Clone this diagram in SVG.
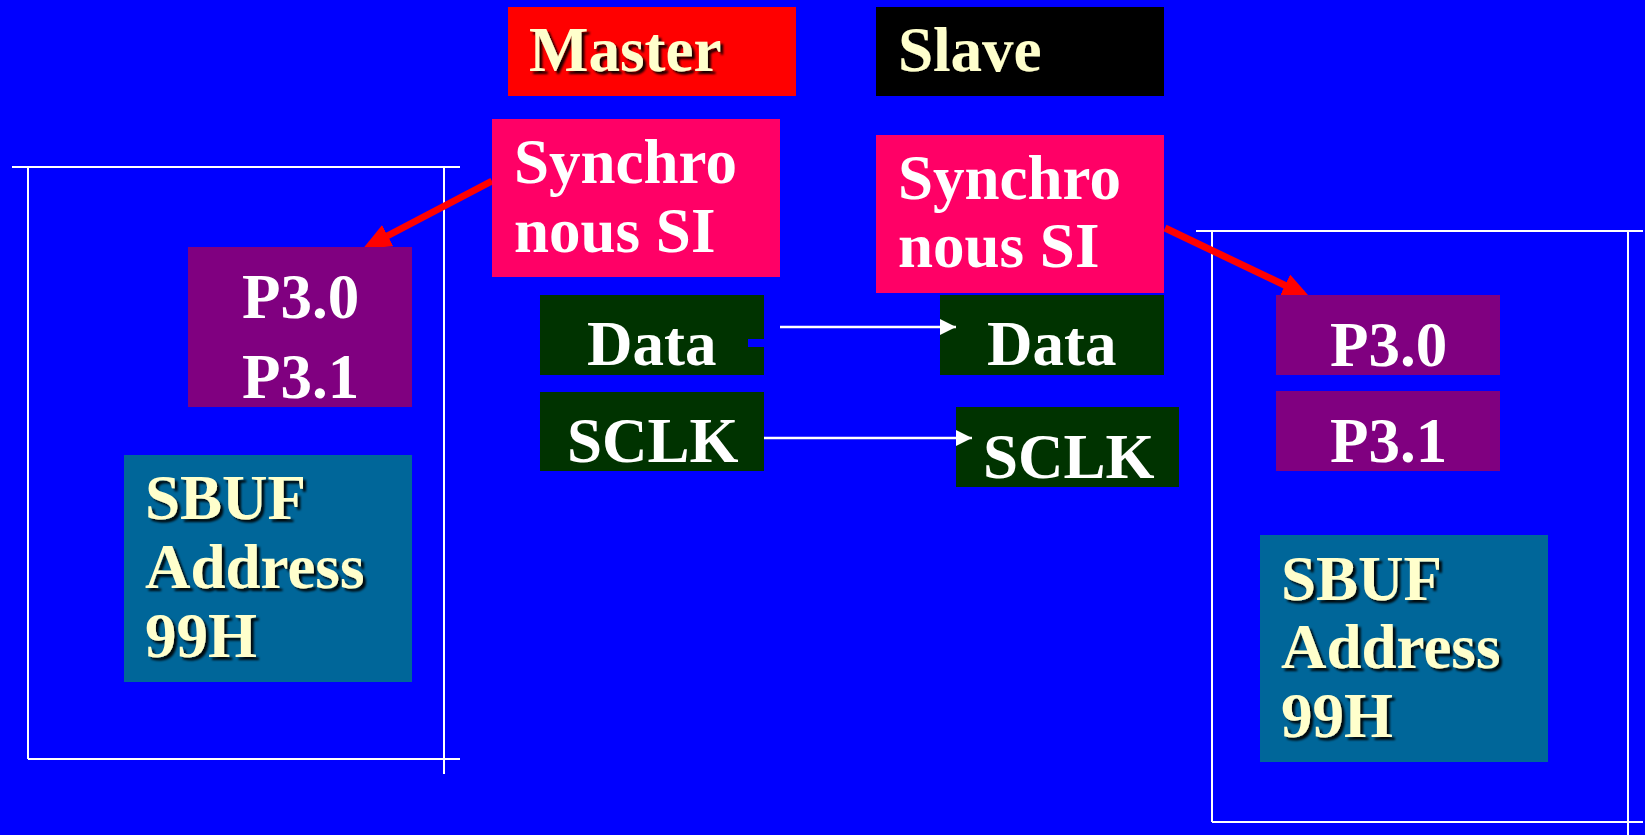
<svg xmlns="http://www.w3.org/2000/svg" width="1645" height="835" viewBox="0 0 1645 835">
<defs>
<style>
.t{font-family:"Liberation Serif","Times New Roman",serif;font-weight:bold;font-size:63px}
.w{fill:#FFFFFF}
.c{fill:#FFFFCC;filter:url(#sh)}
.frame{stroke:#FFFFFF;stroke-width:2;fill:none}
.wl{stroke:#FFFFFF;stroke-width:2.5;fill:none}
.rl{stroke:#FF0000;stroke-width:7;fill:none}
</style>
<filter id="sh" x="-10%" y="-10%" width="130%" height="140%">
<feDropShadow dx="3" dy="3" stdDeviation="1" flood-color="#000000" flood-opacity="0.9"/>
</filter>
<marker id="wa" markerUnits="userSpaceOnUse" markerWidth="16" markerHeight="16" refX="16" refY="8" orient="auto">
<path d="M0,0 L16,8 L0,16 z" fill="#FFFFFF"/>
</marker>
<marker id="ra" markerUnits="userSpaceOnUse" markerWidth="28" markerHeight="24" refX="20" refY="12" orient="auto">
<path d="M0,0 L28,12 L0,24 z" fill="#FF0000"/>
</marker>
</defs>
<rect x="0" y="0" width="1645" height="835" fill="#0000FF"/>

<g id="frame-master">
<line class="frame" x1="12" y1="167" x2="460" y2="167"/>
<line class="frame" x1="28" y1="167" x2="28" y2="759"/>
<line class="frame" x1="28" y1="759" x2="460" y2="759"/>
<line class="frame" x1="444" y1="167" x2="444" y2="774"/>
</g>
<g id="frame-slave">
<line class="frame" x1="1196" y1="231" x2="1643" y2="231"/>
<line class="frame" x1="1212" y1="231" x2="1212" y2="822"/>
<line class="frame" x1="1212" y1="822" x2="1643" y2="822"/>
<line class="frame" x1="1628" y1="231" x2="1628" y2="835"/>
</g>

<g id="connectors">
<line class="rl" x1="492" y1="181" x2="370" y2="245" marker-end="url(#ra)"/>
<line class="rl" x1="1165" y1="228" x2="1303" y2="294" marker-end="url(#ra)"/>
</g>

<g id="master">
<rect x="508" y="7" width="288" height="89" fill="#FF0000"/>
<text class="t c" x="529" y="71">Master</text>
</g>
<g id="slave">
<rect x="876" y="7" width="288" height="89" fill="#000000"/>
<text class="t c" x="898" y="71">Slave</text>
</g>

<g id="master-si">
<rect x="492" y="119" width="288" height="158" fill="#FF0066"/>
<text class="t w" x="514" y="183">Synchro</text>
<text class="t w" x="514" y="252">nous SI</text>
</g>
<g id="slave-si">
<rect x="876" y="135" width="288" height="158" fill="#FF0066"/>
<text class="t w" x="898" y="199">Synchro</text>
<text class="t w" x="898" y="267">nous SI</text>
</g>

<g id="master-p3">
<rect x="188" y="247" width="224" height="160" fill="#800080"/>
<text class="t w" x="242" y="318">P3.0</text>
<text class="t w" x="242" y="398">P3.1</text>
</g>

<g id="master-data">
<rect x="540" y="295" width="224" height="80" fill="#003300"/>
<rect x="748" y="339" width="16" height="8" fill="#0000FF"/>
<text class="t w" x="587" y="365">Data</text>
</g>
<g id="master-sclk">
<rect x="540" y="392" width="224" height="79" fill="#003300"/>
<text class="t w" x="567" y="462">SCLK</text>
</g>

<g id="slave-data">
<rect x="940" y="295" width="224" height="80" fill="#003300"/>
<text class="t w" x="987" y="365">Data</text>
</g>
<g id="slave-sclk">
<rect x="956" y="407" width="223" height="80" fill="#003300"/>
<text class="t w" x="983" y="478">SCLK</text>
</g>

<g id="slave-p30">
<rect x="1276" y="295" width="224" height="80" fill="#800080"/>
<text class="t w" x="1330" y="366">P3.0</text>
</g>
<g id="slave-p31">
<rect x="1276" y="391" width="224" height="80" fill="#800080"/>
<text class="t w" x="1330" y="462">P3.1</text>
</g>

<g id="master-sbuf">
<rect x="124" y="455" width="288" height="227" fill="#006699"/>
<text class="t c" x="145" y="519">SBUF</text>
<text class="t c" x="145" y="588">Address</text>
<text class="t c" x="145" y="657">99H</text>
</g>
<g id="slave-sbuf">
<rect x="1260" y="535" width="288" height="227" fill="#006699"/>
<text class="t c" x="1281" y="600">SBUF</text>
<text class="t c" x="1281" y="668">Address</text>
<text class="t c" x="1281" y="737">99H</text>
</g>

<g id="signal-connectors">
<line class="wl" x1="780" y1="327" x2="956" y2="327" marker-end="url(#wa)"/>
<line class="wl" x1="764" y1="438" x2="972" y2="438" marker-end="url(#wa)"/>
</g>
</svg>
